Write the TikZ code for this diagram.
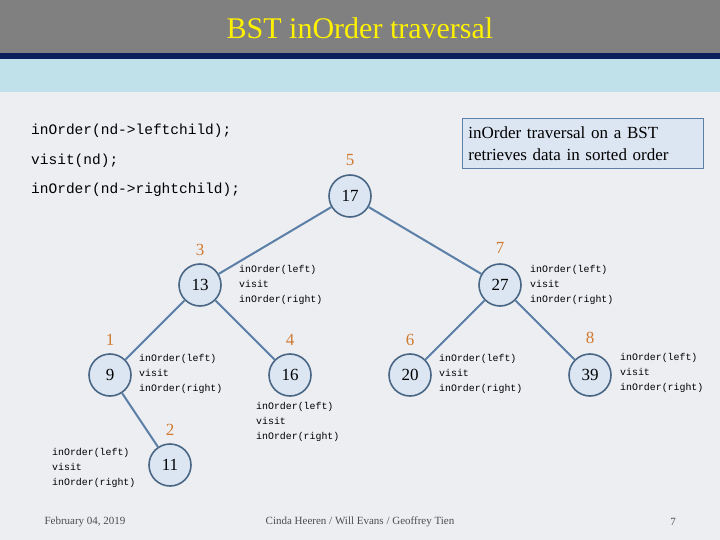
\documentclass[tikz,border=0pt]{standalone}
\usepackage{fontspec}
\setmainfont{Liberation Serif}
\setmonofont{Liberation Mono}
\definecolor{titlegray}{HTML}{808080}
\definecolor{navy}{HTML}{0A1F5C}
\definecolor{bandblue}{HTML}{C0E0EA}
\definecolor{slidebg}{HTML}{ECEEF2}
\definecolor{nodeblue}{HTML}{DCE6F2}
\definecolor{edgeblue}{HTML}{5B7FA6}
\definecolor{ordercol}{HTML}{D07A30}
\tikzset{
  bstnode/.style={circle, draw=edgeblue!80!black, line width=1.6pt, fill=nodeblue,
    minimum size=42pt, inner sep=0pt, font=\fontsize{17}{17}\selectfont},
  bstedge/.style={draw=edgeblue, line width=2pt},
  ordernum/.style={text=ordercol, font=\fontsize{17}{17}\selectfont},
  callnote/.style={align=left, anchor=north west, inner sep=0pt,
    font=\ttfamily\fontsize{9.9}{15}\selectfont},
  codeline/.style={anchor=west, inner sep=0pt, font=\ttfamily\fontsize{14.5}{14.5}\selectfont},
  footnote/.style={font=\fontsize{11}{11}\selectfont, text=black!70}
}
\begin{document}
\begin{tikzpicture}[x=1pt,y=-1pt]
  % slide background and header
  \fill[slidebg] (0,0) rectangle (720,540);
  \useasboundingbox (0,0) rectangle (720,540);
  \fill[titlegray] (0,0) rectangle (720,53);
  \fill[navy] (0,53) rectangle (720,59);
  \fill[bandblue] (0,59) rectangle (720,92);
  \node (title) [text=yellow, font=\fontsize{30}{30}\selectfont] at (360,28) {BST inOrder traversal};

  % code lines
  \node (code1) [codeline] at (31,131) {inOrder(nd->leftchild);};
  \node (code2) [codeline] at (31,161) {visit(nd);};
  \node (code3) [codeline] at (31,190) {inOrder(nd->rightchild);};

  % note box
  \node (note) [draw=edgeblue, line width=0.8pt, fill=nodeblue, align=left, anchor=north west,
    minimum width=241pt, minimum height=50pt, text width=229pt,
    font=\fontsize{17}{22}\selectfont] at (462,118)
    {inOrder traversal on a BST\\retrieves data in sorted order};

  % tree nodes
  \node (n17) [bstnode] at (350,196) {17};
  \node (n13) [bstnode] at (200,285) {13};
  \node (n27) [bstnode] at (500,285) {27};
  \node (n9)  [bstnode] at (110,375) {9};
  \node (n16) [bstnode] at (290,375) {16};
  \node (n20) [bstnode] at (410,375) {20};
  \node (n39) [bstnode] at (590,375) {39};
  \node (n11) [bstnode] at (170,465) {11};

  % tree edges
  \draw[bstedge] (n17) -- (n13);
  \draw[bstedge] (n17) -- (n27);
  \draw[bstedge] (n13) -- (n9);
  \draw[bstedge] (n13) -- (n16);
  \draw[bstedge] (n27) -- (n20);
  \draw[bstedge] (n27) -- (n39);
  \draw[bstedge] (n9) -- (n11);

  % visit order
  \node (o5) [ordernum] at (350,160) {5};
  \node (o3) [ordernum] at (200,250) {3};
  \node (o7) [ordernum] at (500,248) {7};
  \node (o1) [ordernum] at (110,340) {1};
  \node (o4) [ordernum] at (290,340) {4};
  \node (o6) [ordernum] at (410,340) {6};
  \node (o8) [ordernum] at (590,338) {8};
  \node (o2) [ordernum] at (170,430) {2};

  % call notes
  \foreach \nm/\px/\py in {c13/239/265, c27/530/265, c9/139/354, c20/439/354,
                          c39/620/353, c16/256/402, c11/52/448}
    \node (\nm) [callnote] at (\px,\py) {inOrder(left)\\visit\\inOrder(right)};

  % footer
  \node (date) [footnote] at (85,522) {February 04, 2019};
  \node (authors) [footnote] at (360,522) {Cinda Heeren / Will Evans / Geoffrey Tien};
  \node (page) [footnote] at (673,522) {7};
\end{tikzpicture}
\end{document}
